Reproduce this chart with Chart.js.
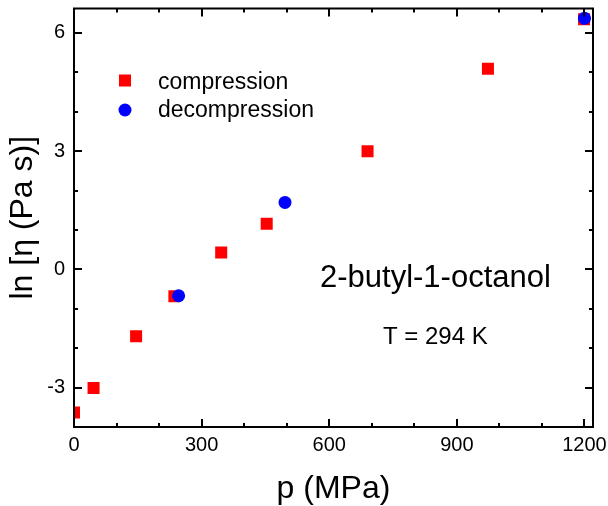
<!DOCTYPE html>
<html>
<head>
<meta charset="utf-8">
<script src="https://cdn.jsdelivr.net/npm/chart.js@4/dist/chart.umd.min.js"></script>
<style>
  html, body { margin: 0; padding: 0; background: #fff; }
</style>
</head>
<body>
<canvas id="lnChart" width="608" height="506"></canvas>
<script>
// compression / decompression data (p in MPa, ln eta)
const compP = [0, 46, 146, 236, 346, 453, 690, 973, 1199];
const compLn = [-3.63, -3.01, -1.70, -0.68, 0.43, 1.16, 3.00, 5.09, 6.35];
const decP = [246, 496, 1200];
const decLn = [-0.67, 1.70, 6.37];
const xTicks = [0, 300, 600, 900, 1200];
const yTicks = [-3, 0, 3, 6];

const FONT = '"Liberation Sans", Arial, sans-serif';

const toPoints = (xs, ys) => xs.map((v, i) => ({ x: v, y: ys[i] }));

// frame on all four sides with inward ticks
const framePlugin = {
    id: 'frame',
    afterDatasetsDraw(chart) {
        const { ctx, chartArea: a, scales: { x, y } } = chart;
        ctx.save();
        ctx.strokeStyle = '#000';
        ctx.lineWidth = 2;
        ctx.strokeRect(a.left, a.top, a.right - a.left, a.bottom - a.top);
        ctx.beginPath();
        for (let v = 0; v <= 1200; v += 100) {
            const px = Math.round(x.getPixelForValue(v));
            const len = v % 300 === 0 ? 8 : 4;
            ctx.moveTo(px, a.bottom); ctx.lineTo(px, a.bottom - len);
            ctx.moveTo(px, a.top); ctx.lineTo(px, a.top + len);
        }
        for (let v = -3; v <= 6; v++) {
            const py = Math.round(y.getPixelForValue(v));
            const len = v % 3 === 0 ? 8 : 4;
            ctx.moveTo(a.left, py); ctx.lineTo(a.left + len, py);
            ctx.moveTo(a.right, py); ctx.lineTo(a.right - len, py);
        }
        ctx.stroke();
        ctx.restore();
    }
};

// legend box and text labels inside the plot
const notesPlugin = {
    id: 'notes',
    afterDraw(chart) {
        const { ctx, chartArea: a } = chart;
        ctx.save();
        // legend
        const mx = a.left + 51;
        ctx.fillStyle = '#ff0000';
        ctx.fillRect(mx - 6, a.top + 72 - 6, 12, 12);
        ctx.fillStyle = '#0000ff';
        ctx.beginPath();
        ctx.arc(mx, a.top + 101.5, 6.5, 0, Math.PI * 2);
        ctx.fill();
        ctx.fillStyle = '#000';
        ctx.textBaseline = 'alphabetic';
        ctx.font = '23px ' + FONT;
        ctx.fillText('compression', a.left + 84, a.top + 80);
        ctx.fillText('decompression', a.left + 84, a.top + 108);
        // sample name and temperature
        ctx.font = '31px ' + FONT;
        ctx.fillText('2-butyl-1-octanol', 320, 287);
        ctx.font = '24px ' + FONT;
        ctx.fillText('T = 294 K', 383, 344);
        ctx.restore();
    }
};

const noPad = (s) => { s.paddingTop = 0; s.paddingBottom = 0; s.paddingLeft = 0; s.paddingRight = 0; };

const ctx = document.getElementById('lnChart').getContext('2d');
new Chart(ctx, {
    type: 'scatter',
    data: {
        datasets: [{
            label: 'decompression',
            data: toPoints(decP, decLn),
            pointStyle: 'circle',
            pointRadius: 6.5,
            pointHoverRadius: 6.5,
            backgroundColor: '#0000ff',
            borderWidth: 0,
            order: 0,
            clip: 0,
        }, {
            label: 'compression',
            data: toPoints(compP, compLn),
            pointStyle: 'rect',
            pointRadius: 8.5,
            pointHoverRadius: 8.5,
            backgroundColor: '#ff0000',
            borderWidth: 0,
            order: 1,
            clip: 0,
        }]
    },
    options: {
        responsive: false,
        animation: false,
        layout: { padding: { top: 7, right: 15, left: 0, bottom: 0 } },
        plugins: {
            legend: { display: false },
            tooltip: { enabled: false }
        },
        scales: {
            x: {
                type: 'linear',
                min: 0,
                max: 1220,
                afterFit: (s) => { s.height = 79; noPad(s); },
                afterBuildTicks: (s) => { s.ticks = xTicks.map(v => ({ value: v })); },
                grid: { display: false, drawTicks: false },
                border: { display: false },
                ticks: {
                    color: '#000', padding: 6, maxRotation: 0,
                    font: { family: FONT, size: 20 },
                    callback: (v) => String(v)
                },
                title: {
                    display: true,
                    text: 'p (MPa)',
                    color: '#000',
                    padding: { top: 0, bottom: 1 },
                    font: { family: FONT, size: 32, lineHeight: 1 }
                }
            },
            y: {
                type: 'linear',
                min: -4,
                max: 6.62,
                afterFit: (s) => { s.width = 74; noPad(s); },
                afterBuildTicks: (s) => { s.ticks = yTicks.map(v => ({ value: v })); },
                grid: { display: false, drawTicks: false },
                border: { display: false },
                ticks: {
                    color: '#000', padding: 9,
                    font: { family: FONT, size: 20 },
                    callback: (v) => String(v)
                },
                title: {
                    display: true,
                    text: 'ln [η (Pa s)]',
                    color: '#000',
                    padding: { top: 7, bottom: 0 },
                    font: { family: FONT, size: 32, lineHeight: 1 }
                }
            }
        }
    },
    plugins: [framePlugin, notesPlugin]
});
</script>
</body>
</html>
